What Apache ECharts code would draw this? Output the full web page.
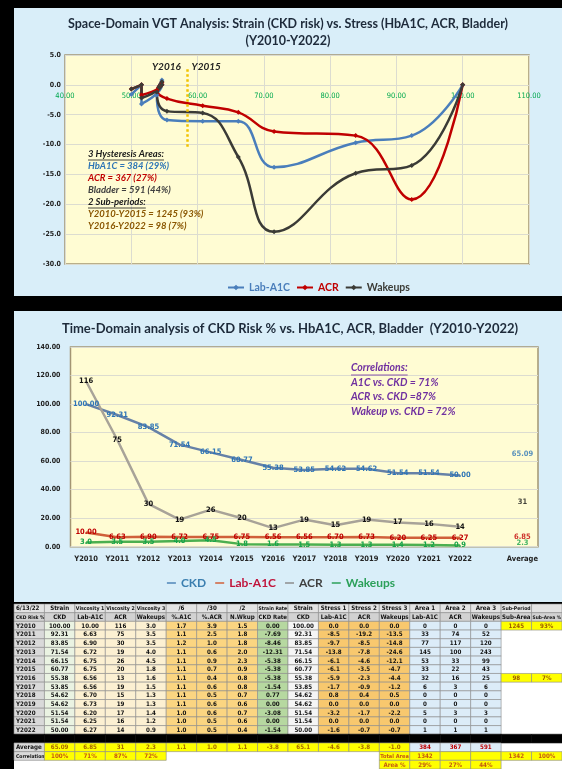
<!DOCTYPE html>
<html><head><meta charset="utf-8">
<script src="https://cdn.jsdelivr.net/npm/echarts@6/dist/echarts.min.js"></script>
<style>html,body{margin:0;padding:0;background:#000}#c{width:562px;height:769px}</style>
</head><body><div id="c"></div><script>
// ---------- data ----------
const years = ['Y2010','Y2011','Y2012','Y2013','Y2014','Y2015','Y2016','Y2017','Y2018','Y2019','Y2020','Y2021','Y2022'];
const ckd = [100.00, 92.31, 83.85, 71.54, 66.15, 60.77, 55.38, 53.85, 54.62, 54.62, 51.54, 51.54, 50.00];
const labA1c = [10.00, 6.63, 6.90, 6.72, 6.75, 6.75, 6.56, 6.56, 6.70, 6.73, 6.20, 6.25, 6.27];
const acr = [116, 75, 30, 19, 26, 20, 13, 19, 15, 19, 17, 16, 14];
const wakeups = [3.0, 3.5, 3.5, 4.0, 4.5, 1.8, 1.6, 1.5, 1.3, 1.3, 1.4, 1.2, 0.9];
const pctA1c = [1.7, 1.1, 1.2, 1.1, 1.1, 1.1, 1.1, 1.1, 1.1, 1.1, 1.0, 1.0, 1.0];
const pctAcr = [3.9, 2.5, 1.0, 0.6, 0.9, 0.7, 0.4, 0.6, 0.5, 0.6, 0.6, 0.5, 0.5];
const nWkup = [1.5, 1.8, 1.8, 2.0, 2.3, 0.9, 0.8, 0.8, 0.7, 0.6, 0.7, 0.6, 0.4];
const ckdRate = [0.00, -7.69, -8.46, -12.31, -5.38, -5.38, -5.38, -1.54, 0.77, 0.00, -3.08, 0.00, -1.54];
const stress1 = [0.0, -8.5, -9.7, -13.8, -6.1, -6.1, -5.9, -1.7, 0.8, 0.0, -3.2, 0.0, -1.6];
const stress2 = [0.0, -19.2, -8.5, -7.8, -4.6, -3.5, -2.3, -0.9, 0.4, 0.0, -1.7, 0.0, -0.7];
const stress3 = [0.0, -13.5, -14.8, -24.6, -12.1, -4.7, -4.4, -1.2, 0.5, 0.0, -2.2, 0.0, -0.7];
const area1 = [0, 33, 77, 145, 53, 33, 32, 6, 0, 0, 5, 0, 1];
const area2 = [0, 74, 117, 100, 33, 22, 16, 3, 0, 0, 3, 0, 1];
const area3 = [0, 52, 120, 243, 99, 43, 25, 6, 0, 0, 3, 0, 1];
const subPeriodRows = [0, 6];
const subPeriodArea = [1245, 98];
const subPeriodPct = ['93%', '7%'];
const averages = ['65.09','6.85','31','2.3','1.1','1.0','1.1','-3.8','65.1','-4.6','-3.8','-1.0','384','367','591'];
const avgCkd = 65.09, avgA1c = 6.85, avgAcr = 31, avgWakeups = 2.3;
const correlations = ['100%','71%','87%','72%'];
const totalArea = 1342;
const areaPct = ['29%','27%','44%'];
const hysteresisAreas = [384, 367, 591];
const midCategories = years.concat(['', 'Average']);
const topXTicks = {min: 40, max: 110, interval: 10};
const topYTicks = {min: -30, max: 5, interval: 5};
const midYTicks = {min: 0, max: 140, interval: 20};
const dividerX = 58.4, dividerTop = 2.6, dividerBottom = -10.5;
const periodLabels = [['Y2016', 55.3, 3.0], ['Y2015', 61.3, 3.0]];
const headers1 = ['6/13/22','Strain','Viscosity 1','Viscosity 2','Viscosity 3','/6','/30','/2','Strain Rate','Strain','Stress 1','Stress 2','Stress 3','Area 1','Area 2','Area 3','Sub-Period',''];
const headers2 = ['CKD Risk %','CKD','Lab-A1C','ACR','Wakeups','%.A1C','%.ACR','N.Wkup','CKD Rate','CKD','Lab-A1C','ACR','Wakeups','Lab-A1C','ACR','Wakeups','Sub-Area','Sub-Area %'];

// ---------- styling ----------
const FONT = 'Lato, "Open Sans", sans-serif';
const TFONT = '"Liberation Sans Narrow","DejaVu Sans Condensed",sans-serif';
const panelBg = '#d9eef9';
const plotBg = '#fffcd3';
const plotBorder = '#a39573';
const gridLine = '#dcdcd0';
const c1 = '#4a7ebb', c2 = '#c00000', c3 = '#3b3b36';

const measure = (() => { const ctx = document.createElement('canvas').getContext('2d');
  return (t, f) => { ctx.font = f; return ctx.measureText(t).width; }; })();

// ---------- table cells ----------
const colBg = ['#d9d9d9','#eaf3e2','#fcf0d2','#fcf0d2','#fcf0d2','#fbd581','#fbd581','#fbd581','#b6d8a0','#f5f5f5','#f8c86e','#f8c86e','#f8c86e','#dcecf8','#dcecf8','#dcecf8','#ffffff','#ffffff'];
const cells = [];
function cell(col, row, text, bg, color, stroke) {
  cells.push({col, row, text: String(text), bg, color: color || '#111', stroke: stroke === undefined ? '#8a8a8a' : stroke});
}
headers1.forEach((t, c) => cell(c, 0, t, '#e3e3e3'));
headers2.forEach((t, c) => cell(c, 1, t, '#d2d2d2'));
years.forEach((y, i) => {
  const r = i + 2;
  const vals = [y, ckd[i].toFixed(2), labA1c[i].toFixed(2), acr[i], wakeups[i].toFixed(1), pctA1c[i].toFixed(1),
    pctAcr[i].toFixed(1), nWkup[i].toFixed(1), ckdRate[i].toFixed(2), ckd[i].toFixed(2), stress1[i].toFixed(1),
    stress2[i].toFixed(1), stress3[i].toFixed(1), area1[i], area2[i], area3[i]];
  vals.forEach((v, c) => cell(c, r, v, colBg[c]));
  const k = subPeriodRows.indexOf(i);
  if (k >= 0) { cell(16, r, subPeriodArea[k], '#ffff00', '#9c5a00'); cell(17, r, subPeriodPct[k], '#ffff00', '#9c5a00'); }
});
for (let c = 0; c < 18; c++) cell(c, 15, '', '#000000', '#000', '#000000');
cell(0, 16, 'Average', '#d9d9d9');
averages.forEach((v, c) => { if (c < 12) cell(c + 1, 16, v, '#ffff00', '#a86a00'); else cell(c + 1, 16, v, '#dcecf8', '#c00000'); });
cell(0, 17, 'Correlation', '#d9d9d9');
correlations.forEach((v, c) => cell(c + 1, 17, v, '#ffff00', '#c55a11'));
cell(12, 17, 'Total Area', '#ffff00', '#c55a11');
cell(13, 17, totalArea, '#ffff00', '#c55a11');
cell(14, 17, '', '#ffff00'); cell(15, 17, '', '#ffff00');
cell(16, 17, totalArea, '#ffff00', '#c55a11');
cell(17, 17, '100%', '#ffff00', '#c55a11');
cell(12, 18, 'Area %', '#ffff00', '#c55a11');
areaPct.forEach((v, k) => cell(13 + k, 18, v, '#ffff00', '#c55a11'));

// ---------- annotations ----------
const aFont = 'italic bold 9.5px ' + FONT;
const annot = [
  ['3 Hysteresis Areas:', '#1a1a1a', true],
  ['HbA1C = ' + hysteresisAreas[0] + ' (' + areaPct[0] + ')', '#2e75b6'],
  ['ACR = ' + hysteresisAreas[1] + ' (' + areaPct[1] + ')', '#c00000'],
  ['Bladder = ' + hysteresisAreas[2] + ' (' + areaPct[2] + ')', '#3f3f3f'],
  ['2 Sub-periods:', '#1a1a1a', true],
  ['Y2010-Y2015 = ' + subPeriodArea[0] + ' (' + subPeriodPct[0] + ')', '#8a5600'],
  ['Y2016-Y2022 = ' + subPeriodArea[1] + ' (' + subPeriodPct[1] + ')', '#8a5600']
];
const cFont = 'italic bold 10.5px ' + FONT;
const corrText = [
  ['Correlations:', true],
  ['A1C vs. CKD = ' + correlations[1], false],
  ['ACR vs. CKD =' + correlations[2], false],
  ['Wakeup vs. CKD = ' + correlations[3], false]
];
const graphics = [
  {type:'rect', z:-10, shape:{x:14, y:8, width:548, height:288}, style:{fill:panelBg}},
  {type:'rect', z:-10, shape:{x:14, y:311, width:548, height:291}, style:{fill:panelBg}},
  {type:'rect', z:-10, shape:{x:14, y:604, width:548, height:165}, style:{fill:'#ffffff'}},
  {type:'text', z:50, style:{text:'Space-Domain VGT Analysis: Strain (CKD risk) vs. Stress (HbA1C, ACR, Bladder)', x:288, y:24, align:'center', verticalAlign:'middle', fill:'#1d2a3a', font:'bold 12.5px ' + FONT}},
  {type:'text', z:50, style:{text:'(Y2010-Y2022)', x:288, y:41, align:'center', verticalAlign:'middle', fill:'#1d2a3a', font:'bold 12.5px ' + FONT}},
  {type:'text', z:50, style:{text:'Time-Domain analysis of CKD Risk % vs. HbA1C, ACR, Bladder  (Y2010-Y2022)', x:290, y:329, align:'center', verticalAlign:'middle', fill:'#1d2a3a', font:'bold 13px ' + FONT}}
];
annot.forEach((a, i) => {
  const y = 154 + i * 12;
  graphics.push({type:'text', z:50, style:{text:a[0], x:88, y:y, verticalAlign:'middle', fill:a[1], font:aFont}});
  if (a[2]) graphics.push({type:'line', z:50, shape:{x1:88, y1:y + 6, x2:88 + measure(a[0], aFont), y2:y + 6}, style:{stroke:a[1], lineWidth:0.8}});
});
corrText.forEach((a, i) => {
  const y = 368 + i * 14.5;
  graphics.push({type:'text', z:50, style:{text:a[0], x:351, y:y, verticalAlign:'middle', fill:'#7030a0', font:cFont}});
  if (a[1]) graphics.push({type:'line', z:50, shape:{x1:351, y1:y + 7, x2:351 + measure(a[0], cFont), y2:y + 7}, style:{stroke:'#7030a0', lineWidth:0.8}});
});

// ---------- series ----------
const pairs = (xs, ys) => xs.map((x, i) => [x, ys[i]]);
function topSeries(name, ys, color) {
  return {name, type:'line', xAxisIndex:0, yAxisIndex:0, data:pairs(ckd, ys), smooth:0.45,
    symbol:'diamond', symbolSize:5, lineStyle:{width:2.5, color}, itemStyle:{color}, z:3};
}
const lblBase = {show:true, position:'inside', fontSize:7.5, fontWeight:'bold', fontFamily:TFONT};
function midSeries(name, data, color, lblColor, dec) {
  return {name, type:'line', xAxisIndex:1, yAxisIndex:1, data, symbol:'circle', symbolSize:1, showSymbol:true,
    lineStyle:{width:2.5, color}, itemStyle:{color},
    label:Object.assign({}, lblBase, {color:lblColor, formatter:p => Number(p.value).toFixed(dec)})};
}
function avgSeries(v, lblColor, dec) {
  return {type:'scatter', xAxisIndex:1, yAxisIndex:1, data:[['Average', v]], symbolSize:1, itemStyle:{color:'rgba(0,0,0,0)'},
    label:Object.assign({}, lblBase, {color:lblColor, formatter:p => Number(p.value[1]).toFixed(dec)})};
}
const s1 = topSeries('Lab-A1C', stress1, c1);
s1.markLine = {silent:true, symbol:['none','none'], label:{show:false},
  lineStyle:{type:'dotted', color:'#f2c200', width:2.5},
  data:[[{coord:[dividerX, dividerTop]}, {coord:[dividerX, dividerBottom]}]]};
s1.markPoint = {silent:true, symbol:'rect', symbolSize:1, itemStyle:{color:'rgba(0,0,0,0)'},
  label:{show:true, position:'inside', formatter:'{b}', color:'#222', fontSize:10, fontWeight:'bold', fontStyle:'italic', fontFamily:FONT},
  data:periodLabels.map(p => ({name:p[0], coord:[p[1], p[2]]}))};

const tableXAxisData = headers2.map((h, i) => String(i));
const tableYAxisData = Array.from({length:19}, (_, i) => String(i));

const option = {
  animation:false,
  backgroundColor:'#000000',
  graphic:graphics,
  legend:[
    {top:277, left:222, itemWidth:16, itemHeight:7, itemGap:6,
     textStyle:{fontFamily:FONT, fontWeight:'bold', fontSize:10.5},
     data:[{name:'Lab-A1C', textStyle:{color:c1}}, {name:'ACR', textStyle:{color:c2}}, {name:'Wakeups', textStyle:{color:c3}}]},
    {top:572, left:'center', icon:'rect', itemWidth:9, itemHeight:1.5, itemGap:9,
     textStyle:{fontFamily:FONT, fontWeight:'bold', fontSize:12},
     data:[{name:'CKD', itemStyle:{color:'#4f86b8'}, textStyle:{color:'#3b7fb0'}},
           {name:'Lab-A1C', itemStyle:{color:'#d0603a'}, textStyle:{color:'#c0143c'}},
           {name:'ACR', itemStyle:{color:'#8c8c8c'}, textStyle:{color:'#404040'}},
           {name:'Wakeups', itemStyle:{color:'#2ca05a'}, textStyle:{color:'#2ca05a'}}]}
  ],
  grid:[
    {left:65, top:55, width:464, height:209, show:true, backgroundColor:plotBg, borderColor:plotBorder, borderWidth:1.5},
    {left:70.5, top:347, width:467.5, height:199.7, show:true, backgroundColor:plotBg, borderColor:plotBorder, borderWidth:1.5},
    {left:14, top:604, width:548, height:167.2}
  ],
  xAxis:[
    {type:'value', gridIndex:0, min:topXTicks.min, max:topXTicks.max, interval:topXTicks.interval,
     axisLine:{show:false, onZero:false}, axisTick:{show:false},
     axisLabel:{color:'#00a84f', fontSize:7.5, fontFamily:TFONT, margin:-172, showMinLabel:true, showMaxLabel:true, formatter:v => v.toFixed(2)},
     splitLine:{show:true, lineStyle:{color:gridLine, width:1}}},
    {type:'category', gridIndex:1, data:midCategories, boundaryGap:true,
     axisLine:{show:false}, axisTick:{show:false},
     axisLabel:{color:'#222', fontSize:7.5, fontWeight:'bold', fontFamily:TFONT, margin:8, interval:0}},
    {type:'category', gridIndex:2, data:tableXAxisData, show:false}
  ],
  yAxis:[
    {type:'value', gridIndex:0, min:topYTicks.min, max:topYTicks.max, interval:topYTicks.interval,
     axisLine:{show:false}, axisTick:{show:false},
     axisLabel:{color:'#222', fontSize:7, fontWeight:'bold', fontFamily:TFONT, margin:4, formatter:v => v.toFixed(1)},
     splitLine:{show:true, lineStyle:{color:gridLine}}},
    {type:'value', gridIndex:1, min:midYTicks.min, max:midYTicks.max, interval:midYTicks.interval,
     axisLine:{show:false}, axisTick:{show:false},
     axisLabel:{color:'#222', fontSize:7, fontWeight:'bold', fontFamily:TFONT, margin:10, formatter:v => v.toFixed(2)},
     splitLine:{show:true, lineStyle:{color:gridLine}}},
    {type:'category', gridIndex:2, data:tableYAxisData, inverse:true, show:false}
  ],
  series:[
    s1,
    topSeries('ACR', stress2, c2),
    topSeries('Wakeups', stress3, c3),
    midSeries('CKD', ckd, '#6681a7', '#2e75b6', 2),
    midSeries('ACR', acr, '#a8a398', '#111111', 0),
    midSeries('Lab-A1C', labA1c, '#d0603a', '#c00000', 2),
    midSeries('Wakeups', wakeups, '#4caf50', '#16a34a', 1),
    avgSeries(avgCkd, '#2e75b6', 2),
    avgSeries(avgAcr, '#111111', 0),
    avgSeries(avgA1c, '#c00000', 2),
    avgSeries(avgWakeups, '#16a34a', 1),
    {type:'custom', xAxisIndex:2, yAxisIndex:2, silent:true, clip:false,
     data:cells.map(c => [c.col, c.row]),
     renderItem:(params, api) => {
       const d = cells[params.dataIndex];
       const p = api.coord([api.value(0), api.value(1)]);
       const sz = api.size([1, 1]);
       const base = 6.2;
       const w = measure(d.text, 'bold ' + base + 'px ' + TFONT);
       const fs = w > sz[0] - 2 ? base * (sz[0] - 2) / w : base;
       const left = d.col === 0;
       return {type:'group', children:[
         {type:'rect', shape:{x:p[0] - sz[0] / 2, y:p[1] - sz[1] / 2, width:sz[0], height:sz[1]},
          style:{fill:d.bg, stroke:d.stroke, lineWidth:0.6}},
         {type:'text', style:{text:d.text, x:left ? p[0] - sz[0] / 2 + 2 : p[0], y:p[1] + 0.5, align:left ? 'left' : 'center', verticalAlign:'middle',
          fill:d.color, font:'bold ' + fs.toFixed(2) + 'px ' + TFONT}}
       ]};
     }}
  ]
};
const chart = echarts.init(document.getElementById('c'), null, {renderer:'canvas', width:562, height:769});
chart.setOption(option);
</script></body></html>
